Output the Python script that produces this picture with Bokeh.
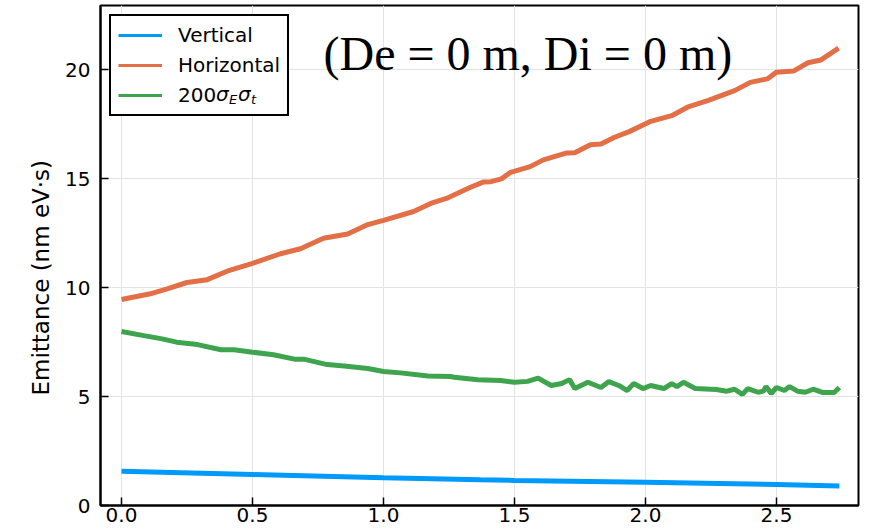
from bokeh.plotting import figure
from bokeh.models import (Range1d, FixedTicker, PrintfTickFormatter, Legend, LegendItem, Label,
                          BoxAnnotation, Title)
from bokeh.embed import file_html
from bokeh.resources import INLINE

# ---- data ----
vert_x = [0.0, 0.5, 1.0, 1.37, 1.5, 2.0, 2.5, 2.74]
vert_y = [1.575, 1.42, 1.27, 1.18, 1.15, 1.07, 0.96, 0.90]

horiz_x = [0.0, 0.11, 0.174, 0.25, 0.327, 0.403, 0.5, 0.607, 0.683, 0.771, 0.863, 0.94,
           1.0, 1.115, 1.18, 1.24, 1.33, 1.38, 1.41, 1.45, 1.485, 1.56, 1.61, 1.70, 1.73,
           1.79, 1.83, 1.88, 1.94, 2.02, 2.10, 2.16, 2.24, 2.34, 2.40, 2.465, 2.50, 2.565,
           2.62, 2.67, 2.737]
horiz_y = [9.46, 9.72, 9.95, 10.24, 10.37, 10.76, 11.12, 11.56, 11.79, 12.27, 12.47, 12.9,
           13.09, 13.5, 13.87, 14.1, 14.6, 14.85, 14.87, 15.0, 15.3, 15.56, 15.87, 16.19, 16.2,
           16.57, 16.6, 16.9, 17.18, 17.64, 17.9, 18.29, 18.6, 19.05, 19.43, 19.59, 19.9, 19.95,
           20.33, 20.46, 21.0]

sig_x = [0.0, 0.085, 0.155, 0.21, 0.29, 0.38, 0.43, 0.5, 0.58, 0.66, 0.695, 0.785, 0.85,
         0.94, 1.0, 1.065, 1.17, 1.256, 1.27, 1.36, 1.447, 1.5, 1.55, 1.59, 1.64, 1.68, 1.71,
         1.73, 1.78, 1.83, 1.86, 1.90, 1.93, 1.955, 1.99, 2.02, 2.07, 2.10, 2.12, 2.145, 2.19,
         2.27, 2.31, 2.34, 2.37, 2.39, 2.43, 2.45, 2.46, 2.48, 2.50, 2.53, 2.55, 2.58, 2.61,
         2.64, 2.675, 2.72, 2.74]
sig_y = [7.99, 7.8, 7.65, 7.5, 7.39, 7.15, 7.15, 7.04, 6.92, 6.72, 6.72, 6.47, 6.41,
         6.29, 6.15, 6.09, 5.95, 5.92, 5.89, 5.77, 5.74, 5.66, 5.7, 5.85, 5.51, 5.6, 5.78,
         5.37, 5.66, 5.42, 5.69, 5.5, 5.28, 5.6, 5.37, 5.51, 5.37, 5.6, 5.46, 5.66, 5.37,
         5.33, 5.25, 5.34, 5.1, 5.37, 5.2, 5.25, 5.46, 5.14, 5.42, 5.28, 5.46, 5.25, 5.2,
         5.34, 5.19, 5.19, 5.42]

x_ticks = [0.0, 0.5, 1.0, 1.5, 2.0, 2.5]
y_ticks = [0, 5, 10, 15, 20]
labels = ["Vertical", "Horizontal", "200"]
colors = ["#009AFA", "#E36F47", "#3EA44E"]
title_text = "(De = 0 m, Di = 0 m)"
y_label = "Emittance (nm eV·s)"

FONT = "DejaVu Sans"
X0, X1 = -0.0802, 2.813
Y0, Y1 = 0.0, 22.96

p = figure(width=869, height=531, x_range=Range1d(X0, X1), y_range=Range1d(Y0, Y1),
           output_backend="svg", toolbar_location=None,
           min_border_left=100, min_border_right=11, min_border_top=5, min_border_bottom=26)
p.background_fill_color = "white"
p.border_fill_color = "white"
p.outline_line_color = "black"
p.outline_line_width = 2
p.outline_line_alpha = 1.0

for ax in (p.xaxis[0], p.yaxis[0]):
    ax.axis_line_color = "black"
    ax.axis_line_width = 2
    ax.major_tick_in = 8
    ax.major_tick_out = 0
    ax.major_tick_line_width = 1.5
    ax.major_tick_line_color = "black"
    ax.minor_tick_line_color = None
    ax.major_label_text_font = FONT
    ax.major_label_text_font_size = "20px"
    ax.major_label_text_color = "black"

p.xaxis.ticker = FixedTicker(ticks=x_ticks)
p.yaxis.ticker = FixedTicker(ticks=y_ticks)
p.xaxis.formatter = PrintfTickFormatter(format="%.1f")
p.yaxis.formatter = PrintfTickFormatter(format="%d")
p.xaxis.major_label_standoff = 2
p.yaxis.major_label_standoff = 10

p.grid.grid_line_color = "#e3e3e3"
p.grid.grid_line_width = 1

# y-axis title as a side title (allows shifting along the axis)
p.add_layout(Title(text=y_label, text_font=FONT, text_font_size="23px",
                   text_font_style="normal", text_color="black", align="left",
                   offset=110, standoff=18), "left")


def dx(px):
    return X0 + (px - 100) / (858 - 100) * (X1 - X0)


def dy(py):
    return Y0 + (505 - py) / (505 - 5) * (Y1 - Y0)


# white backing of the legend box (hides grid lines under it)
p.add_layout(BoxAnnotation(left=dx(110), right=dx(287), top=dy(15), bottom=dy(113),
                           fill_color="white", fill_alpha=1.0, line_color=None,
                           level="underlay"))

p.line(vert_x, vert_y, line_color=colors[0], line_width=5)
p.line(horiz_x, horiz_y, line_color=colors[1], line_width=5)
p.line(sig_x, sig_y, line_color=colors[2], line_width=5)

# thinner legend samples (renderers that draw nothing in the plot)
nan = float("nan")
dummies = [p.line(x=[nan], y=[nan], line_color=c, line_width=3) for c in colors]
legend = Legend(items=[LegendItem(label=l, renderers=[d]) for l, d in zip(labels, dummies)],
                location="top_left", margin=9, padding=7, spacing=6,
                glyph_width=44, glyph_height=24, label_height=24, label_standoff=16,
                label_text_font=FONT, label_text_font_size="20px", label_text_color="black",
                border_line_color="black", border_line_width=2, border_line_alpha=1.0,
                background_fill_alpha=0.0)
p.add_layout(legend)

# subscripted part of the third legend label: σ_E σ_t
for txt, px, py, size in [("σ", 215.5, 93, "20px"), ("E", 228.5, 99, "13px"),
                          ("σ", 237.5, 93, "20px"), ("t", 250.5, 99, "13px")]:
    p.add_layout(Label(x=dx(px), y=dy(py), text=txt, text_font=FONT, text_font_size=size,
                       text_font_style="italic", text_color="black", level="overlay",
                       text_baseline="middle", text_align="left"))

p.add_layout(Label(x=dx(323), y=dy(53), text=title_text, text_font="Liberation Serif",
                   text_font_size="48px", text_color="black", level="overlay",
                   text_baseline="middle", text_align="left"))

open("out.html", "w").write(file_html(p, INLINE))
